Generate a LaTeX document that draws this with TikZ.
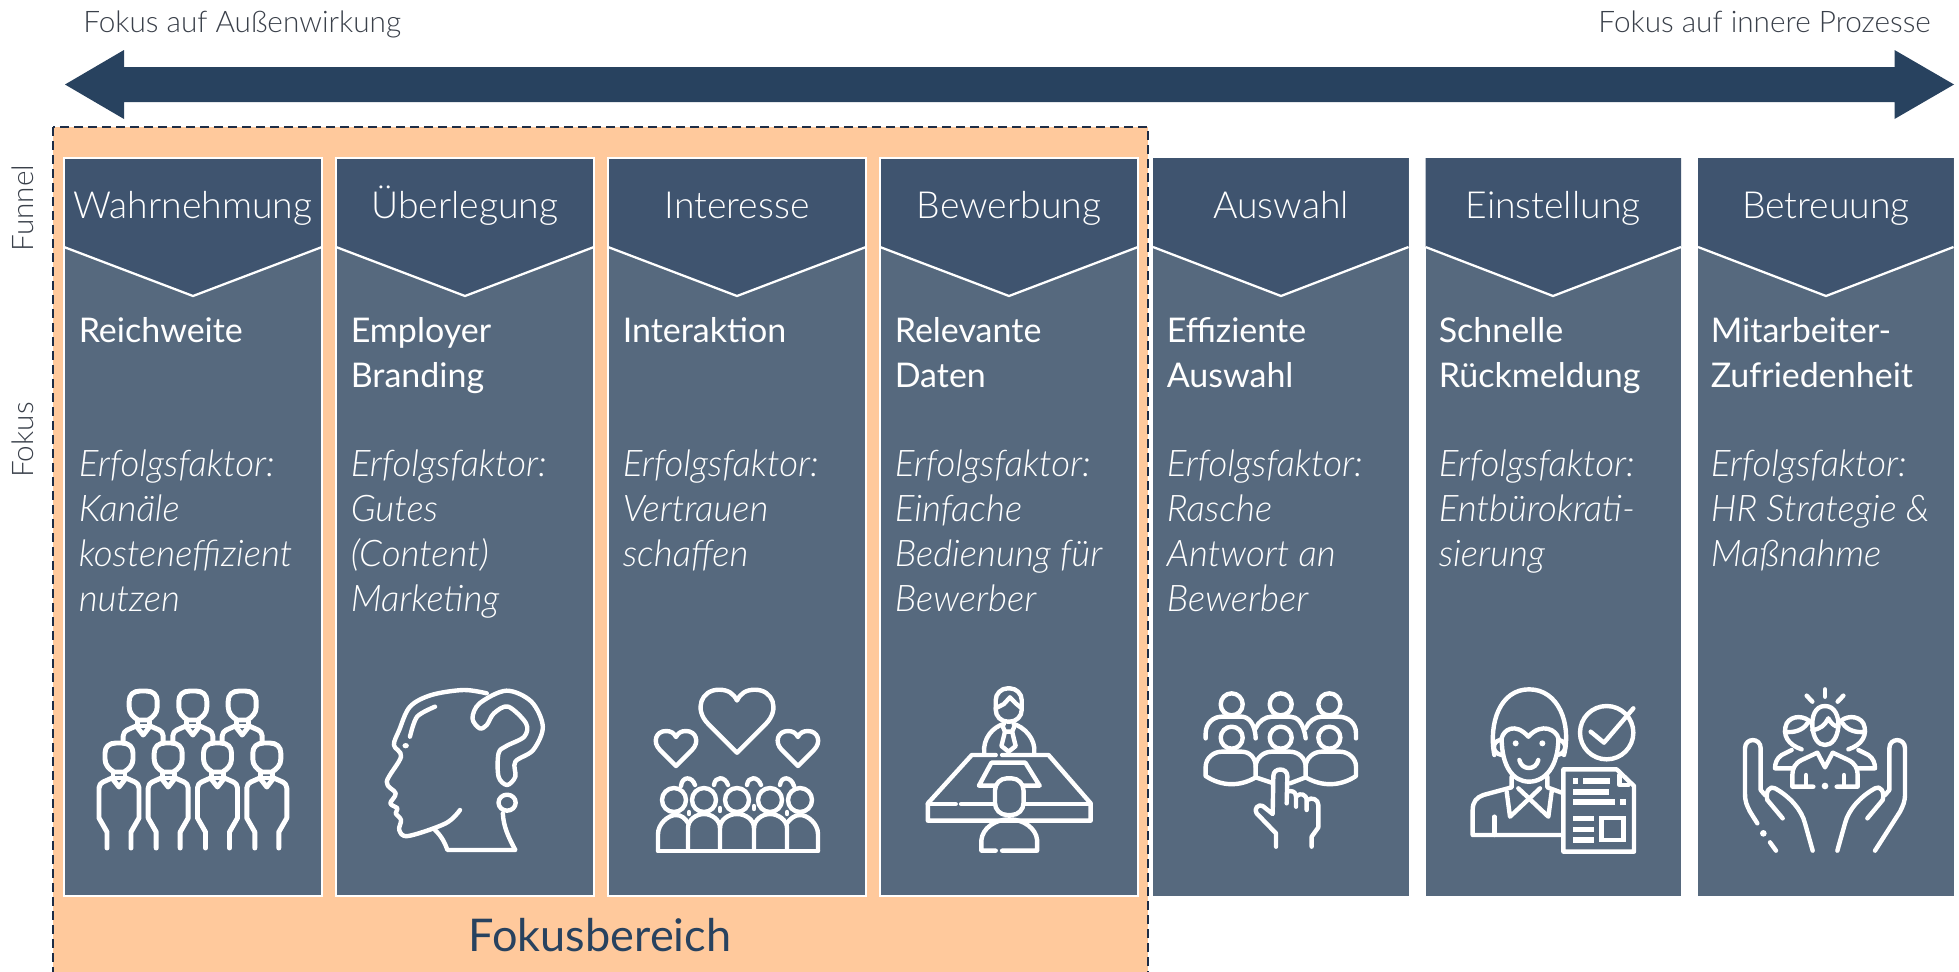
\documentclass[tikz,border=0pt]{standalone}
\usepackage{fontspec}
\setmainfont{Lato}[UprightFont=* Light,ItalicFont=* Light Italic,BoldFont=*]
\newfontfamily\titlefont{Lato}
\definecolor{arrowblue}{RGB}{40,66,95}
\definecolor{headblue}{RGB}{63,84,111}
\definecolor{bodyblue}{RGB}{86,105,126}
\definecolor{focusorange}{RGB}{255,201,156}
\definecolor{sidegrey}{RGB}{58,64,74}
\definecolor{dashnavy}{RGB}{30,45,70}
\tikzset{
  flipup/.style={yscale=-1},
  bodybox/.style={fill=bodyblue},
  headbox/.style={fill=headblue},
  framebox/.style={draw=white,line width=1.8pt,fill=none},
  chevline/.style={draw=white,line width=1.7pt,line join=miter},
  headtxt/.style={anchor=base,inner sep=0pt,text=white,font=\fontsize{28}{34}\selectfont},
  titletxt/.style={anchor=base west,inner sep=0pt,align=left,text=white,font=\titlefont\fontsize{25.5}{33.75}\selectfont},
  notetxt/.style={anchor=base west,inner sep=0pt,align=left,text=white,font=\itshape\fontsize{27.5}{33.75}\selectfont},
  sidetxt/.style={inner sep=0pt,text=sidegrey,font=\fontsize{22.3}{26}\selectfont},
  iconline/.style={draw=white,line width=3.3pt,line cap=round,line join=round},
  staffline/.style={iconline,line width=3.7pt},
  frontstaff/.pic={
    \draw[staffline] (0,-15) -- (3,-15) .. controls (10,-15) and (14,-11) .. (14,-5) -- (14,1) .. controls (14,7) and (10,11) .. (5,14) -- (-5,14) .. controls (-10,11) and (-14,7) .. (-14,1) -- (-14,-5) .. controls (-14,-11) and (-10,-15) .. (-3,-15) -- cycle;
    \draw[staffline] (-12,90) -- (-12,74) -- (-20,60) -- (-20,30) .. controls (-20,27) and (-18,25) .. (-16,24) -- (-7,20) -- (0,29) -- (7,20) -- (16,24) .. controls (18,25) and (20,27) .. (20,30) -- (20,60) -- (12,74) -- (12,90);
    \draw[staffline] (-6,15) -- (-6,20) -- (6,20) -- (6,15);
  },
  backstaff/.pic={
    \draw[staffline] (0,-15) -- (3,-15) .. controls (10,-15) and (14,-11) .. (14,-5) -- (14,1) .. controls (14,7) and (10,11) .. (5,14) -- (-5,14) .. controls (-10,11) and (-14,7) .. (-14,1) -- (-14,-5) .. controls (-14,-11) and (-10,-15) .. (-3,-15) -- cycle;
    \draw[staffline] (-20,37) -- (-20,30) .. controls (-20,27) and (-18,25) .. (-16,24) -- (-7,20) -- (0,29) -- (7,20) -- (16,24) .. controls (18,25) and (20,27) .. (20,30) -- (20,37);
    \draw[staffline] (-6,15) -- (-6,20) -- (6,20) -- (6,15);
  },
  heartline/.pic={
    \draw[iconline] (0,0) -- (-16,-16) .. controls (-24,-24) and (-20,-35) .. (-10,-35) .. controls (-5,-35) and (-2,-33) .. (0,-29) .. controls (2,-33) and (5,-35) .. (10,-35) .. controls (20,-35) and (24,-24) .. (16,-16) -- cycle;
  },
}
\begin{document}
\begin{tikzpicture}[x=0.75pt,y=0.75pt,yscale=-1,xscale=1]
	\clip (0,0) rectangle (1959,971);
	\fill[white] (0,0) rectangle (1959,971);

	% Double arrow
	\fill[arrowblue] (65,84.5) -- (124,50) -- (124,67) -- (1894.5,67) -- (1894.5,50) -- (1954,84.5) -- (1894.5,119) -- (1894.5,102) -- (124,102) -- (124,119) -- cycle;
	% Text Node
	\node[sidetxt,anchor=base west] (outerTxt) at (83,32) {Fokus auf Außenwirkung};
	\node[sidetxt,anchor=base east] (innerTxt) at (1931,32) {Fokus auf innere Prozesse};
	\node[sidetxt,rotate=90] (funnelTxt) at (23,208) {Funnel};
	\node[sidetxt,rotate=90] (fokusTxt) at (23,440) {Fokus};

	% Focus area
	\draw[fill=focusorange,draw=dashnavy,dash pattern=on 6.5pt off 4pt,line width=1.3pt] (53,127) rectangle (1148,1000);
	\node[anchor=base,inner sep=0pt,text=arrowblue,font=\titlefont\fontsize{33.8}{40}\selectfont] (focusTxt) at (600,951) {Fokusbereich};

	% Column Wahrnehmung
	\fill[bodybox] (64,158) rectangle (322,896);
	\fill[headbox] (64,158) -- (322,158) -- (322,247) -- (193,296) -- (64,247) -- cycle;
	\draw[chevline] (64,247) -- (193,296) -- (322,247);
	\draw[framebox] (64,158) rectangle (322,896);
	\node[headtxt] (wahrHead) at (193,218) {Wahrnehmung};
	\node[titletxt] (wahrTitle) at (78.5,342.7) {Reichweite};
	\node[notetxt] (wahrNote) at (78.5,611.7) {Erfolgsfaktor:\\Kanäle\\kosteneffizient\\nutzen};

	% Column Ueberlegung
	\fill[bodybox] (336,158) rectangle (594,896);
	\fill[headbox] (336,158) -- (594,158) -- (594,247) -- (465,296) -- (336,247) -- cycle;
	\draw[chevline] (336,247) -- (465,296) -- (594,247);
	\draw[framebox] (336,158) rectangle (594,896);
	\node[headtxt] (uebHead) at (465,218) {Überlegung};
	\node[titletxt] (uebTitle) at (350.5,387.7) {Employer\\Branding};
	\node[notetxt] (uebNote) at (350.5,611.7) {Erfolgsfaktor:\\Gutes\\(Content)\\Marketing};

	% Column Interesse
	\fill[bodybox] (608,158) rectangle (866,896);
	\fill[headbox] (608,158) -- (866,158) -- (866,247) -- (737,296) -- (608,247) -- cycle;
	\draw[chevline] (608,247) -- (737,296) -- (866,247);
	\draw[framebox] (608,158) rectangle (866,896);
	\node[headtxt] (intHead) at (737,218) {Interesse};
	\node[titletxt] (intTitle) at (622.5,342.7) {Interaktion};
	\node[notetxt] (intNote) at (622.5,566.7) {Erfolgsfaktor:\\Vertrauen\\schaffen};

	% Column Bewerbung
	\fill[bodybox] (880,158) rectangle (1138,896);
	\fill[headbox] (880,158) -- (1138,158) -- (1138,247) -- (1009,296) -- (880,247) -- cycle;
	\draw[chevline] (880,247) -- (1009,296) -- (1138,247);
	\draw[framebox] (880,158) rectangle (1138,896);
	\node[headtxt] (bewHead) at (1009,218) {Bewerbung};
	\node[titletxt] (bewTitle) at (894.5,387.7) {Relevante\\Daten};
	\node[notetxt] (bewNote) at (894.5,611.7) {Erfolgsfaktor:\\Einfache\\Bedienung für\\Bewerber};

	% Column Auswahl
	\fill[bodybox] (1153,158) rectangle (1408.5,896);
	\fill[headbox] (1153,158) -- (1408.5,158) -- (1408.5,247) -- (1281,296) -- (1153,247) -- cycle;
	\draw[chevline] (1153,247) -- (1281,296) -- (1408.5,247);
	\node[headtxt] (ausHead) at (1281,218) {Auswahl};
	\node[titletxt] (ausTitle) at (1166.5,387.7) {Effiziente\\Auswahl};
	\node[notetxt] (ausNote) at (1166.5,611.7) {Erfolgsfaktor:\\Rasche\\Antwort an\\Bewerber};

	% Column Einstellung
	\fill[bodybox] (1425.5,158) rectangle (1681,896);
	\fill[headbox] (1425.5,158) -- (1681,158) -- (1681,247) -- (1553,296) -- (1425.5,247) -- cycle;
	\draw[chevline] (1425.5,247) -- (1553,296) -- (1681,247);
	\node[headtxt] (einHead) at (1553,218) {Einstellung};
	\node[titletxt] (einTitle) at (1438.5,387.7) {Schnelle\\Rückmeldung};
	\node[notetxt] (einNote) at (1438.5,566.7) {Erfolgsfaktor:\\Entbürokrati-\\sierung};

	% Column Betreuung
	\fill[bodybox] (1698,158) rectangle (1953.5,896);
	\fill[headbox] (1698,158) -- (1953.5,158) -- (1953.5,247) -- (1826,296) -- (1698,247) -- cycle;
	\draw[chevline] (1698,247) -- (1826,296) -- (1953.5,247);
	\node[headtxt] (betHead) at (1826,218) {Betreuung};
	\node[titletxt] (betTitle) at (1710.5,387.7) {Mitarbeiter-\\Zufriedenheit};
	\node[notetxt] (betNote) at (1710.5,566.7) {Erfolgsfaktor:\\HR Strategie \&\\Maßnahme};

	% Icon staff
	\pic[flipup] at (143.2,706) {backstaff};
	\pic[flipup] at (192.8,706) {backstaff};
	\pic[flipup] at (242.2,706) {backstaff};
	\pic[flipup] at (119,758) {frontstaff};
	\pic[flipup] at (168.2,758) {frontstaff};
	\pic[flipup] at (217.5,758) {frontstaff};
	\pic[flipup] at (266.8,758) {frontstaff};

	% Icon head
	\begin{scope}[shift={(60,660)},xscale=1/2.8,yscale=1/3]
		\draw[iconline] plot[smooth,tension=0.55] coordinates {(1195,100) (1130,90) (1040,105) (980,140) (950,210) (935,255) (955,290) (915,365) (940,400) (925,430) (945,445) (940,460) (955,480) (950,510) (975,528) (1080,490) (1120,450)};
		\draw[iconline] plot[smooth] coordinates {(1050,140) (1000,170) (980,230)};
		\fill[white] (968,257) ellipse (9 and 8);
		\draw[iconline] (1050,510) .. controls (1070,530) and (1078,550) .. (1085,570) -- (1275,570) .. controls (1255,530) and (1242,500) .. (1240,460);
		\draw[iconline] (1252,428) ellipse (24 and 24);
		\draw[iconline] plot[smooth cycle,tension=0.55] coordinates {(1155,175) (1175,130) (1250,92) (1320,125) (1352,200) (1325,270) (1275,305) (1275,350) (1252,375) (1228,350) (1228,280) (1250,258) (1300,230) (1305,190) (1255,140) (1215,160) (1195,195) (1175,205)};
	\end{scope}

	% Icon hearts
	\pic[flipup,scale=1.8] at (737,752.7) {heartline};
	\pic[flipup] at (676,766) {heartline};
	\pic[flipup] at (797.9,766) {heartline};
	\draw[iconline] (658,850.7) -- (818,850.7);
	\draw[iconline] (658,850.7) -- (658,834) .. controls (658,824) and (668,815) .. (676,815) .. controls (681,815) and (685,818) .. (688,823);
	\draw[iconline] (688,850.7) -- (688,828) .. controls (688,820) and (696,814) .. (704,814) .. controls (712,814) and (720,820) .. (720,828) -- (720,850.7);
	\draw[iconline] (754,850.7) -- (754,828) .. controls (754,820) and (746,814) .. (737,814) .. controls (728,814) and (720,820) .. (720,828);
	\draw[iconline] (754,828) .. controls (754,820) and (762,814) .. (770,814) .. controls (778,814) and (787,820) .. (787,828) -- (787,850.7);
	\draw[iconline] (818,850.7) -- (818,834) .. controls (818,824) and (808,815) .. (800,815) .. controls (795,815) and (791,818) .. (787,823);
	\draw[iconline] (674,800) circle (12);
	\draw[iconline] (704,800) circle (12);
	\draw[iconline] (737,800) circle (12);
	\draw[iconline] (770,800) circle (12);
	\draw[iconline] (800,800) circle (12);
	\draw[iconline] (681,786) .. controls (682,776) and (692,776) .. (695,785);
	\draw[iconline] (714,785) .. controls (715,776) and (725,776) .. (728,785);
	\draw[iconline] (747,785) .. controls (748,776) and (758,776) .. (761,785);
	\draw[iconline] (780,785) .. controls (781,776) and (791,776) .. (794,786);
	\draw[iconline] (689,812) -- (689,814);
	\draw[iconline] (720,808) -- (720,811);
	\draw[iconline] (754,806) -- (754,809);
	\draw[iconline] (787,812) -- (787,814);

	% Icon interview
	\begin{scope}[shift={(620,660)},xscale=1/2.8,yscale=1/3]
		\draw[iconline,rounded corners=9pt] (1052,85) rectangle (1125,185);
		\draw[iconline] (1052,145) -- (1075,132) -- (1092,112) -- (1108,130) -- (1125,145);
		\draw[iconline] (1020,280) .. controls (1015,235) and (1045,200) .. (1075,192);
		\draw[iconline] (1160,280) .. controls (1165,235) and (1130,200) .. (1102,192);
		\draw[iconline] (1078,215) -- (1098,215) -- (1108,258) -- (1088,275) -- (1068,258) -- cycle;
		\draw[iconline] (1072,200) -- (1078,215);
		\draw[iconline] (1104,200) -- (1098,215);
		\draw[iconline] (1052,285) -- (985,285) -- (862,430) -- (862,482) -- (1318,482) -- (1318,430) -- (1200,285) -- (1070,285);
		\draw[iconline] (862,432) -- (940,432);
		\draw[iconline] (955,432) -- (1048,432);
		\draw[iconline] (1130,432) -- (1318,432);
		\draw[iconline] (1052,377) -- (1005,377) -- (1040,308) -- (1135,308) -- (1175,377) -- (1128,377);
		\draw[iconline,rounded corners=9pt] (1050,355) rectangle (1130,465);
		\draw[iconline] (1052,572) -- (1012,572) -- (1012,540) .. controls (1015,505) and (1050,478) .. (1090,478) .. controls (1130,478) and (1165,505) .. (1168,540) -- (1168,572) -- (1070,572);
	\end{scope}

	% Icon pointing hand
	\begin{scope}[shift={(1190,670)},scale=1/3]
		\draw[iconline] (125,103) ellipse (33 and 33);
		\draw[iconline] (272,103) ellipse (33 and 33);
		\draw[iconline] (418,103) ellipse (33 and 33);
		\draw[iconline] (47,205) -- (47,190) .. controls (47,160) and (70,140) .. (95,140) -- (155,140) .. controls (175,140) and (195,160) .. (197,205);
		\draw[iconline] (197,175) .. controls (205,155) and (225,140) .. (245,140) -- (300,140) .. controls (320,140) and (340,155) .. (347,205);
		\draw[iconline] (347,175) .. controls (355,155) and (375,140) .. (395,140) -- (445,140) .. controls (475,140) and (498,160) .. (498,190) -- (498,205);
		\draw[iconline] (125,203) ellipse (33 and 33);
		\draw[iconline] (272,203) ellipse (33 and 33);
		\draw[iconline] (418,203) ellipse (33 and 33);
		\draw[iconline] (47,318) -- (47,290) .. controls (47,265) and (70,245) .. (95,245) -- (155,245) .. controls (180,245) and (197,265) .. (197,290) -- (197,322) .. controls (150,350) and (95,350) .. (47,318);
		\draw[iconline] (197,290) .. controls (197,265) and (220,245) .. (245,245) -- (300,245) .. controls (325,245) and (347,265) .. (347,290) -- (347,322) -- (300,340);
		\draw[iconline] (197,322) -- (245,338);
		\draw[iconline] (347,290) .. controls (347,265) and (370,245) .. (395,245) -- (450,245) .. controls (475,245) and (498,265) .. (498,290) -- (498,318) .. controls (450,350) and (395,350) .. (347,322);
		\draw[iconline] (258,530) -- (258,490) -- (200,430) .. controls (190,418) and (205,400) .. (218,408) -- (248,432) -- (250,318) .. controls (250,292) and (292,292) .. (292,318) -- (290,400);
		\draw[iconline] (292,365) .. controls (305,360) and (318,365) .. (318,380) -- (318,410);
		\draw[iconline] (320,378) .. controls (330,368) and (350,372) .. (350,392) -- (350,420);
		\draw[iconline] (352,390) .. controls (365,380) and (385,388) .. (385,405) -- (385,472) -- (365,500) -- (365,530);
	\end{scope}

	% Icon applicant
	\begin{scope}[shift={(1460,680)},scale=1/3]
		\draw[iconline] (103,225) .. controls (85,130) and (120,28) .. (207,28) .. controls (295,28) and (335,130) .. (312,225);
		\draw[iconline] (125,175) .. controls (130,150) and (165,125) .. (205,170) .. controls (245,125) and (290,150) .. (295,175);
		\draw[iconline] (125,175) .. controls (125,260) and (160,305) .. (207,305) .. controls (255,305) and (295,260) .. (295,175);
		\draw[iconline] (120,180) .. controls (95,185) and (95,220) .. (125,225);
		\draw[iconline] (298,180) .. controls (322,185) and (322,220) .. (292,225);
		\fill[white] (167,190) ellipse (9 and 9);
		\fill[white] (247,190) ellipse (9 and 9);
		\draw[iconline] (178,240) .. controls (185,272) and (228,272) .. (235,240);
		\draw[iconline] (155,290) -- (155,322) -- (70,345) .. controls (50,352) and (38,365) .. (38,390) -- (38,465) -- (305,465);
		\draw[iconline] (262,290) -- (262,322) -- (305,338);
		\draw[iconline] (103,410) -- (103,465);
		\draw[iconline] (140,335) -- (150,410) -- (240,325);
		\draw[iconline] (275,335) -- (265,410) -- (175,325);
		\draw[iconline] (310,268) -- (470,268) -- (522,318) -- (522,515) -- (310,515) -- cycle;
		\draw[iconline] (478,285) -- (478,315) -- (505,315);
		\fill[white] (338,295) rectangle (355,312);
		\fill[white] (370,295) rectangle (450,312);
		\fill[white] (338,328) rectangle (448,344);
		\fill[white] (338,358) rectangle (465,374);
		\fill[white] (480,358) rectangle (497,374);
		\fill[white] (338,407) rectangle (402,423);
		\fill[white] (338,440) rectangle (402,456);
		\fill[white] (338,472) rectangle (402,488);
		\draw[iconline,line join=miter] (424,414) rectangle (490,480);
		\draw[iconline] (440,158) ellipse (80 and 80);
		\draw[iconline] (392,155) -- (432,188) -- (520,85);
	\end{scope}

	% Icon caring hands
	\begin{scope}[shift={(1730,680)},scale=1/3]
		\draw[iconline] (285,28) -- (285,50);
		\draw[iconline] (230,47) -- (247,65);
		\draw[iconline] (340,47) -- (323,65);
		\draw[iconline] (285,78) .. controls (255,78) and (245,110) .. (247,140) .. controls (250,175) and (265,195) .. (285,195) .. controls (305,195) and (322,175) .. (325,140) .. controls (327,110) and (315,78) .. (285,78);
		\draw[iconline] (247,150) .. controls (270,148) and (285,135) .. (295,115) .. controls (302,130) and (315,140) .. (325,140);
		\draw[iconline] (245,130) .. controls (225,105) and (185,105) .. (170,130) .. controls (155,165) and (175,195) .. (215,208);
		\draw[iconline] (165,155) .. controls (190,160) and (220,150) .. (232,130);
		\draw[iconline] (325,130) .. controls (345,105) and (385,105) .. (400,130) .. controls (415,165) and (395,195) .. (355,208);
		\draw[iconline] (405,155) .. controls (380,160) and (350,150) .. (338,130);
		\draw[iconline] (250,320) -- (187,320) -- (187,285) .. controls (187,265) and (195,250) .. (215,240) -- (262,218) -- (285,262) -- (308,218) -- (355,240) .. controls (375,250) and (383,265) .. (383,285) -- (383,320) -- (320,320);
		\draw[iconline] (228,285) -- (228,320);
		\draw[iconline] (342,285) -- (342,320);
		\fill[white] (285,318) ellipse (10 and 10);
		\draw[iconline] (185,210) -- (155,225) .. controls (140,235) and (135,250) .. (135,265) -- (185,265);
		\draw[iconline] (385,210) -- (415,225) .. controls (430,235) and (435,250) .. (435,265) -- (385,265);
		\draw[iconline] (82,430) -- (60,395) .. controls (50,375) and (45,365) .. (45,340) -- (45,205) .. controls (45,172) and (92,172) .. (92,205) -- (92,330) -- (105,345);
		\draw[iconline] (158,415) -- (112,360) .. controls (105,335) and (120,315) .. (135,325) .. controls (180,350) and (215,390) .. (225,430) -- (248,512);
		\fill[white] (100,460) ellipse (10 and 10);
		\draw[iconline] (120,487) -- (138,512);
		\draw[iconline] (435,512) -- (510,395) .. controls (520,375) and (525,365) .. (525,340) -- (525,205) .. controls (525,172) and (478,172) .. (478,205) -- (478,330) -- (465,345);
		\draw[iconline] (412,415) -- (458,360) .. controls (465,335) and (450,315) .. (435,325) .. controls (390,350) and (355,390) .. (345,430) -- (322,512);
	\end{scope}
\end{tikzpicture}
\end{document}
